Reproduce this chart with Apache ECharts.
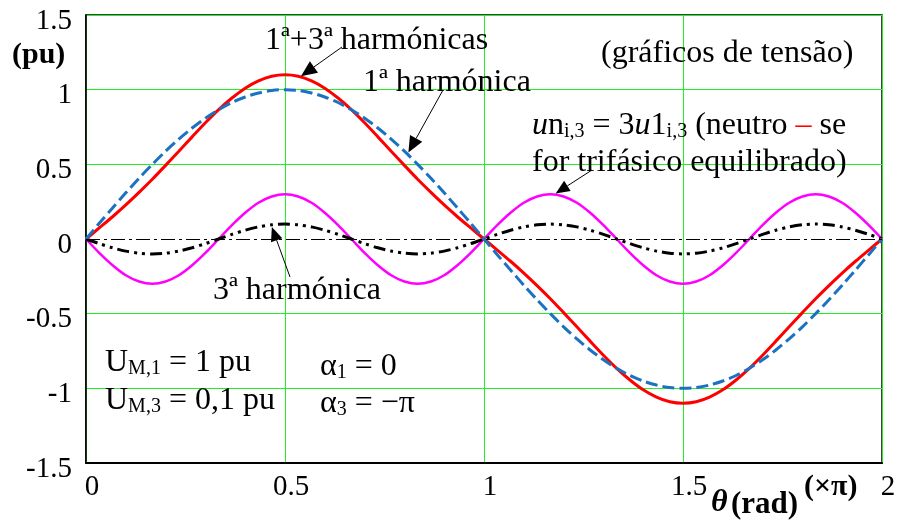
<!DOCTYPE html>
<html><head><meta charset="utf-8">
<script src="https://cdn.jsdelivr.net/npm/echarts@6/dist/echarts.min.js"></script>
<style>html,body{margin:0;padding:0;background:#fff}#c{width:899px;height:522px}</style>
</head><body><div id="c"></div>
<script>
// theta in units of pi
const thetaPi = [0,0.0333,0.0667,0.1,0.1333,0.1667,0.2,0.2333,0.2667,0.3,0.3333,0.3667,0.4,0.4333,0.4667,0.5,
  0.5333,0.5667,0.6,0.6333,0.6667,0.7,0.7333,0.7667,0.8,0.8333,0.8667,0.9,0.9333,0.9667,1,
  1.0333,1.0667,1.1,1.1333,1.1667,1.2,1.2333,1.2667,1.3,1.3333,1.3667,1.4,1.4333,1.4667,1.5,
  1.5333,1.5667,1.6,1.6333,1.6667,1.7,1.7333,1.7667,1.8,1.8333,1.8667,1.9,1.9333,1.9667,2];
// 1ª harmónica (dashed blue)
const harm1 = [0,0.105,0.208,0.309,0.407,0.5,0.588,0.669,0.743,0.809,0.866,0.914,0.951,0.978,0.995,1,
  0.995,0.978,0.951,0.914,0.866,0.809,0.743,0.669,0.588,0.5,0.407,0.309,0.208,0.105,0,
  -0.105,-0.208,-0.309,-0.407,-0.5,-0.588,-0.669,-0.743,-0.809,-0.866,-0.914,-0.951,-0.978,-0.995,-1,
  -0.995,-0.978,-0.951,-0.914,-0.866,-0.809,-0.743,-0.669,-0.588,-0.5,-0.407,-0.309,-0.208,-0.105,0];
// 3ª harmónica (black dash-dot-dot)
const harm3 = [0,-0.031,-0.059,-0.081,-0.095,-0.1,-0.095,-0.081,-0.059,-0.031,0,
  0.031,0.059,0.081,0.095,0.1,0.095,0.081,0.059,0.031,0,
  -0.031,-0.059,-0.081,-0.095,-0.1,-0.095,-0.081,-0.059,-0.031,0,
  0.031,0.059,0.081,0.095,0.1,0.095,0.081,0.059,0.031,0,
  -0.031,-0.059,-0.081,-0.095,-0.1,-0.095,-0.081,-0.059,-0.031,0,
  0.031,0.059,0.081,0.095,0.1,0.095,0.081,0.059,0.031,0];
// 1ª+3ª harmónicas (red)
const harmSum = [0,0.074,0.149,0.228,0.312,0.4,0.493,0.588,0.684,0.778,0.866,0.944,1.010,1.059,1.090,1.1,
  1.090,1.059,1.010,0.944,0.866,0.778,0.684,0.588,0.493,0.4,0.312,0.228,0.149,0.074,0,
  -0.074,-0.149,-0.228,-0.312,-0.4,-0.493,-0.588,-0.684,-0.778,-0.866,-0.944,-1.010,-1.059,-1.090,-1.1,
  -1.090,-1.059,-1.010,-0.944,-0.866,-0.778,-0.684,-0.588,-0.493,-0.4,-0.312,-0.228,-0.149,-0.074,0];
// neutro un(i,3) = 3 u1(i,3) (magenta)
const neutro = [0,-0.093,-0.176,-0.243,-0.285,-0.3,-0.285,-0.243,-0.176,-0.093,0,
  0.093,0.176,0.243,0.285,0.3,0.285,0.243,0.176,0.093,0,
  -0.093,-0.176,-0.243,-0.285,-0.3,-0.285,-0.243,-0.176,-0.093,0,
  0.093,0.176,0.243,0.285,0.3,0.285,0.243,0.176,0.093,0,
  -0.093,-0.176,-0.243,-0.285,-0.3,-0.285,-0.243,-0.176,-0.093,0,
  0.093,0.176,0.243,0.285,0.3,0.285,0.243,0.176,0.093,0];
const zeroRef = [0];
const xTicks = [0, 0.5, 1, 1.5, 2];
const yTicks = [-1.5, -1, -0.5, 0, 0.5, 1, 1.5];

const F = "'Liberation Serif','Times New Roman',serif";
const chart = echarts.init(document.getElementById('c'));
const pairs = ys => thetaPi.map((x, i) => [x, ys[i]]);
const GREEN = '#22f022';
const ySplitColors = yTicks.map(v => v === 0 ? 'rgba(0,0,0,0)' : GREEN);

chart.setOption({
  animation: false,
  grid: { left: 86, right: 17, top: 15, bottom: 59, show: true, borderColor: '#000', borderWidth: 1.5, backgroundColor: 'transparent' },
  xAxis: {
    type: 'value', min: xTicks[0], max: xTicks[xTicks.length - 1], interval: 0.5,
    axisLine: { show: true, onZero: false, lineStyle: { color: '#000', width: 2 } },
    axisTick: { show: false },
    splitLine: { show: true, lineStyle: { color: GREEN, width: 1 } },
    axisLabel: { fontFamily: F, fontSize: 29, color: '#000', margin: 10, padding: [0, 0, 0, 12] }
  },
  yAxis: {
    type: 'value', min: yTicks[0], max: yTicks[yTicks.length - 1], interval: 0.5,
    axisLine: { show: true, lineStyle: { color: '#000', width: 1.5 } },
    axisTick: { show: false },
    splitLine: { show: true, lineStyle: { color: ySplitColors, width: 1 } },
    axisLabel: { fontFamily: F, fontSize: 29, color: '#000', margin: 14, verticalAlign: 'top', lineHeight: 12 }
  },
  series: [
    { type: 'line', data: pairs(neutro), showSymbol: false, smooth: 0.3,
      lineStyle: { color: '#ff00ff', width: 2.5 },
      markLine: { silent: true, symbol: 'none', label: { show: false },
        lineStyle: { color: '#000', width: 1, type: [14, 4, 3, 4] },
        data: zeroRef.map(v => ({ yAxis: v })) } },
    { type: 'line', data: pairs(harm3), showSymbol: false, smooth: 0.3,
      lineStyle: { color: '#000', width: 3, type: [12, 5, 3, 5, 3, 5] } },
    { type: 'line', data: pairs(harmSum), showSymbol: false, smooth: 0.3,
      lineStyle: { color: '#ff0000', width: 3 } },
    { type: 'line', data: pairs(harm1), showSymbol: false, smooth: 0.3,
      lineStyle: { color: '#1b72c2', width: 3, type: [12, 5] } }
  ]
});

const n = { fontFamily: F, fontSize: 32, lineHeight: 34, verticalAlign: 'bottom', fill: '#000' };
const s = { fontFamily: F, fontSize: 20, lineHeight: 22, verticalAlign: 'bottom', fill: '#000' };
const it = Object.assign({}, n, { fontStyle: 'italic' });
const red = Object.assign({}, n, { fill: '#ff0000' });
const rich = { n, s, i: it, r: red };

function txt(x, y, text, extra) {
  return { type: 'text', x, y, z: 100, style: Object.assign({ text, rich, textVerticalAlign: 'middle', textAlign: 'left', fill: '#000', font: '32px ' + F }, extra || {}) };
}
function arrow(tail, tipData, hl, hw) {
  const tip = chart.convertToPixel({ gridIndex: 0 }, tipData);
  const dx = tip[0] - tail[0], dy = tip[1] - tail[1];
  const L = Math.hypot(dx, dy), ux = dx / L, uy = dy / L;
  const bx = tip[0] - ux * hl, by = tip[1] - uy * hl;
  return [
    { type: 'line', z: 100, shape: { x1: tail[0], y1: tail[1], x2: bx, y2: by }, style: { stroke: '#000', lineWidth: 1 } },
    { type: 'polygon', z: 100, shape: { points: [[tip[0], tip[1]], [bx - uy * hw, by + ux * hw], [bx + uy * hw, by - ux * hw]] }, style: { fill: '#000' } }
  ];
}

const g = [
  txt(265, 40, '{n|1ª+3ª harmónicas}'),
  txt(363, 82, '{n|1ª harmónica}'),
  txt(601, 53, '{n|(gráficos de tensão)}'),
  txt(532, 125, '{i|u}{n|n}{s|i,3}{n| = 3}{i|u}{n|1}{s|i,3}{n| (neutro }{r|–}{n| se}'),
  txt(532, 162, '{n|for trifásico equilibrado)}'),
  txt(213, 290, '{n|3ª harmónica}'),
  txt(105, 362, '{n|U}{s|M,1}{n| = 1 pu}'),
  txt(105, 400, '{n|U}{s|M,3}{n| = 0,1 pu}'),
  txt(320, 366, '{n|α}{s|1}{n| = 0}'),
  txt(320, 403, '{n|α}{s|3}{n| = −π}'),
  { type: 'text', x: 12, y: 55, z: 100, style: { text: '(pu)', font: 'bold 30px ' + F, fill: '#000', textVerticalAlign: 'middle' } },
  { type: 'text', x: 711, y: 503, z: 100, style: { text: 'θ', font: 'italic bold 32px ' + F, fill: '#000', textVerticalAlign: 'middle' } },
  { type: 'text', x: 731, y: 505, z: 100, style: { text: '(rad)', font: 'bold 31px ' + F, fill: '#000', textVerticalAlign: 'middle' } },
  { type: 'text', x: 804, y: 487, z: 100, style: { text: '(×π)', font: 'bold 30px ' + F, fill: '#000', textVerticalAlign: 'middle' } }
]
  .concat(arrow([342, 47], [0.54, 1.09], 16, 7))
  .concat(arrow([443, 90], [0.81, 0.58], 16, 7))
  .concat(arrow([592, 170], [1.18, 0.305], 14, 6))
  .concat(arrow([290, 277], [0.467, 0.08], 14, 6));

chart.setOption({ graphic: g });
</script>
</body></html>
